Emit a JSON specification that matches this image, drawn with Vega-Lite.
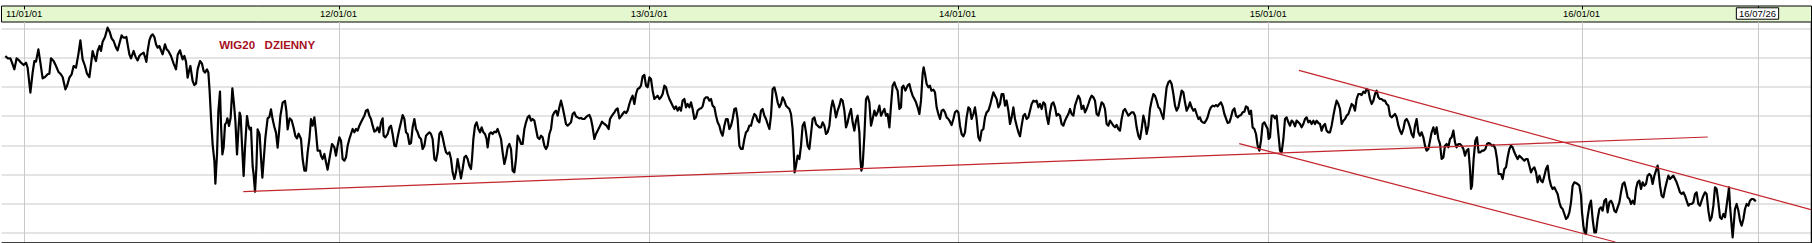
{
"$schema": "https://vega.github.io/schema/vega-lite/v6.json",
"padding": {"top": 4.5, "left": 0, "right": 0, "bottom": 0},
"spacing": 0,
"bounds": "flush",
"config": {"view": {"stroke": null}},
"datasets": {
"hdr": [
{"s":18.6,"t":"11/01/01","box":0},{"s":270,"t":"12/01/01","box":0},{"s":518.6,"t":"13/01/01","box":0},{"s":765.2,"t":"14/01/01","box":0},{"s":1013.8,"t":"15/01/01","box":0},{"s":1264.4,"t":"16/01/01","box":0},{"s":1405.2,"t":"16/07/26","box":1}
],
"note": [{"s":174.6,"v":2816,"t":"WIG20\u00a0\u00a0\u00a0DZIENNY"}],
"trend": [
{"id":"a","s":193.8,"v":1942},{"id":"a","s":1365.4,"v":2270},
{"id":"b","s":1038.4,"v":2670},{"id":"b","s":1448,"v":1834},
{"id":"c","s":990.6,"v":2230},{"id":"c","s":1291.4,"v":1640}
],
"price": [
{"s":3.5,"v":2756},{"s":5.3,"v":2742},{"s":7.5,"v":2742},{"s":8.8,"v":2716},{"s":10.7,"v":2676},{"s":12.5,"v":2742},{"s":14.4,"v":2730},{"s":16,"v":2716},{"s":18.1,"v":2702},{"s":20,"v":2716},{"s":21.3,"v":2686},{"s":23.5,"v":2536},{"s":25.3,"v":2656},{"s":26.7,"v":2726},{"s":28,"v":2722},{"s":29.9,"v":2796},{"s":31.5,"v":2716},{"s":33.3,"v":2622},{"s":35.2,"v":2630},{"s":37.3,"v":2646},{"s":38.7,"v":2650},{"s":40,"v":2742},{"s":42.1,"v":2726},{"s":44,"v":2696},{"s":45.9,"v":2662},{"s":47.5,"v":2650},{"s":49.3,"v":2630},{"s":51.5,"v":2556},{"s":52.8,"v":2576},{"s":54.7,"v":2626},{"s":56.5,"v":2646},{"s":58.1,"v":2696},{"s":60,"v":2686},{"s":61.9,"v":2766},{"s":63.5,"v":2850},{"s":65.3,"v":2736},{"s":67.2,"v":2696},{"s":68.8,"v":2650},{"s":70.7,"v":2630},{"s":72,"v":2706},{"s":73.3,"v":2786},{"s":74.7,"v":2750},{"s":76,"v":2726},{"s":77.3,"v":2786},{"s":78.9,"v":2816},{"s":80,"v":2786},{"s":81.3,"v":2842},{"s":83.2,"v":2870},{"s":85.3,"v":2926},{"s":86.9,"v":2902},{"s":88.5,"v":2862},{"s":90.1,"v":2846},{"s":92,"v":2806},{"s":93.3,"v":2790},{"s":94.9,"v":2836},{"s":96.5,"v":2880},{"s":97.9,"v":2866},{"s":99.2,"v":2866},{"s":100.3,"v":2870},{"s":101.3,"v":2826},{"s":102.7,"v":2766},{"s":104,"v":2742},{"s":106.1,"v":2786},{"s":107.7,"v":2750},{"s":109.3,"v":2730},{"s":110.7,"v":2756},{"s":112,"v":2766},{"s":114.1,"v":2776},{"s":115.2,"v":2750},{"s":116.3,"v":2720},{"s":117.3,"v":2786},{"s":118.7,"v":2850},{"s":120,"v":2876},{"s":121.3,"v":2886},{"s":122.7,"v":2870},{"s":124,"v":2826},{"s":125.3,"v":2806},{"s":126.7,"v":2816},{"s":128,"v":2790},{"s":129.3,"v":2766},{"s":131.2,"v":2826},{"s":132.5,"v":2796},{"s":133.9,"v":2786},{"s":136,"v":2756},{"s":138.1,"v":2710},{"s":140,"v":2676},{"s":141.3,"v":2762},{"s":143.2,"v":2790},{"s":145.3,"v":2736},{"s":146.7,"v":2756},{"s":148,"v":2722},{"s":149.3,"v":2626},{"s":150.7,"v":2676},{"s":151.5,"v":2696},{"s":153.3,"v":2606},{"s":154.7,"v":2582},{"s":156,"v":2590},{"s":157.3,"v":2676},{"s":159.2,"v":2726},{"s":160.8,"v":2710},{"s":162.1,"v":2666},{"s":163.2,"v":2656},{"s":164.8,"v":2676},{"s":165.9,"v":2656},{"s":166.9,"v":2546},{"s":168,"v":2386},{"s":169.3,"v":2226},{"s":170.7,"v":2126},{"s":171.5,"v":1990},{"s":172.8,"v":2166},{"s":173.9,"v":2426},{"s":175.2,"v":2542},{"s":176,"v":2346},{"s":177.1,"v":2166},{"s":178.1,"v":2206},{"s":179.2,"v":2346},{"s":180.3,"v":2356},{"s":181.1,"v":2382},{"s":182.4,"v":2336},{"s":183.7,"v":2386},{"s":185.1,"v":2562},{"s":186.4,"v":2466},{"s":187.5,"v":2366},{"s":188.8,"v":2166},{"s":189.9,"v":2306},{"s":190.9,"v":2416},{"s":191.7,"v":2396},{"s":192.8,"v":2226},{"s":194.1,"v":2036},{"s":195.2,"v":2206},{"s":196.8,"v":2396},{"s":197.9,"v":2342},{"s":198.9,"v":2316},{"s":200,"v":2326},{"s":201.3,"v":2096},{"s":202.1,"v":2046},{"s":203.2,"v":1942},{"s":204.3,"v":2086},{"s":205.3,"v":2316},{"s":206.9,"v":2286},{"s":208,"v":2146},{"s":209.1,"v":2026},{"s":210.1,"v":2126},{"s":211.5,"v":2266},{"s":213.3,"v":2382},{"s":214.7,"v":2390},{"s":216,"v":2436},{"s":217.3,"v":2376},{"s":218.7,"v":2330},{"s":220,"v":2296},{"s":221.3,"v":2206},{"s":222.4,"v":2296},{"s":223.5,"v":2396},{"s":225.3,"v":2476},{"s":227.2,"v":2486},{"s":228.3,"v":2426},{"s":229.3,"v":2316},{"s":230.9,"v":2382},{"s":232.5,"v":2370},{"s":234.1,"v":2326},{"s":235.5,"v":2276},{"s":236.8,"v":2262},{"s":238.1,"v":2290},
{"s":240,"v":2258},{"s":241.3,"v":2138},{"s":242.7,"v":2068},{"s":244,"v":2068},{"s":245.3,"v":2178},{"s":246.7,"v":2258},{"s":248,"v":2378},{"s":249.3,"v":2338},{"s":250.7,"v":2388},{"s":252,"v":2298},{"s":253.3,"v":2188},{"s":255.2,"v":2188},{"s":256,"v":2158},{"s":257.3,"v":2138},{"s":258.7,"v":2168},{"s":260,"v":2118},{"s":261.3,"v":2074},{"s":262.7,"v":2138},{"s":264.8,"v":2228},{"s":266.7,"v":2208},{"s":268,"v":2158},{"s":269.3,"v":2218},{"s":270.7,"v":2268},{"s":272,"v":2248},{"s":273.3,"v":2138},{"s":274.7,"v":2128},{"s":276,"v":2148},{"s":277.3,"v":2218},{"s":278.7,"v":2258},{"s":280,"v":2288},{"s":281.3,"v":2318},{"s":282.7,"v":2298},{"s":284,"v":2318},{"s":285.3,"v":2308},{"s":286.7,"v":2338},{"s":288,"v":2358},{"s":289.3,"v":2378},{"s":290.7,"v":2398},{"s":292,"v":2428},{"s":293.3,"v":2434},{"s":294.7,"v":2398},{"s":296,"v":2378},{"s":297.3,"v":2338},{"s":298.7,"v":2302},{"s":300,"v":2308},{"s":301.3,"v":2328},{"s":302.7,"v":2298},{"s":304,"v":2358},{"s":305.3,"v":2382},{"s":306.1,"v":2278},{"s":307.5,"v":2268},{"s":309.3,"v":2288},{"s":310.7,"v":2328},{"s":312,"v":2338},{"s":313.3,"v":2288},{"s":314.7,"v":2218},{"s":316,"v":2214},{"s":317.3,"v":2268},{"s":318.7,"v":2318},{"s":320,"v":2358},{"s":321.3,"v":2402},{"s":322.7,"v":2378},{"s":324,"v":2298},{"s":325.3,"v":2288},{"s":326.7,"v":2228},{"s":328,"v":2234},{"s":329.3,"v":2328},{"s":330.7,"v":2378},{"s":332,"v":2318},{"s":333.3,"v":2298},{"s":334.7,"v":2268},{"s":336,"v":2258},{"s":337.3,"v":2198},{"s":338.7,"v":2218},{"s":340,"v":2278},{"s":341.3,"v":2288},{"s":342.7,"v":2298},{"s":344,"v":2288},{"s":345.3,"v":2258},{"s":346.7,"v":2138},{"s":348,"v":2128},{"s":349.3,"v":2178},{"s":350.7,"v":2288},{"s":352,"v":2302},{"s":353.3,"v":2268},{"s":354.7,"v":2218},{"s":356,"v":2178},{"s":357.3,"v":2168},{"s":358.7,"v":2178},{"s":360,"v":2138},{"s":361.3,"v":2058},{"s":362.7,"v":2018},{"s":364,"v":2058},{"s":365.3,"v":2138},{"s":366.7,"v":2078},{"s":368,"v":2022},{"s":369.3,"v":2078},{"s":370.7,"v":2148},{"s":372,"v":2158},{"s":373.3,"v":2138},{"s":374.7,"v":2098},{"s":376,"v":2078},{"s":376.8,"v":2138},{"s":377.9,"v":2258},{"s":379.2,"v":2338},{"s":380.5,"v":2358},{"s":381.9,"v":2318},{"s":383.2,"v":2298},{"s":384.5,"v":2328},{"s":385.9,"v":2298},{"s":387.2,"v":2288},{"s":388.5,"v":2258},{"s":389.3,"v":2208},{"s":390.7,"v":2288},{"s":392,"v":2298},{"s":393.3,"v":2288},{"s":394.7,"v":2302},{"s":396,"v":2298},{"s":397.3,"v":2318},{"s":398.7,"v":2288},{"s":400,"v":2258},{"s":401.3,"v":2178},{"s":402.7,"v":2108},{"s":404,"v":2148},{"s":405.3,"v":2208},{"s":406.7,"v":2228},{"s":408,"v":2198},{"s":409.3,"v":2068},{"s":410.7,"v":2058},{"s":412,"v":2138},{"s":413.3,"v":2278},{"s":414.7,"v":2258},{"s":416,"v":2228},{"s":417.3,"v":2228},{"s":418.7,"v":2318},{"s":420,"v":2358},{"s":421.3,"v":2388},{"s":422.7,"v":2398},{"s":424,"v":2368},{"s":425.3,"v":2378},{"s":426.7,"v":2368},{"s":428,"v":2318},{"s":429.3,"v":2268},{"s":430.7,"v":2258},{"s":432,"v":2278},{"s":433.3,"v":2268},{"s":434.7,"v":2218},{"s":436,"v":2198},{"s":437.3,"v":2218},{"s":438.7,"v":2288},{"s":440,"v":2318},{"s":441.3,"v":2398},{"s":442.7,"v":2418},{"s":444,"v":2428},{"s":445.3,"v":2398},{"s":446.7,"v":2448},{"s":448,"v":2488},{"s":449.3,"v":2448},{"s":450.7,"v":2398},{"s":452,"v":2348},{"s":453.3,"v":2338},{"s":454.7,"v":2348},{"s":456,"v":2358},{"s":457.3,"v":2408},{"s":458.7,"v":2418},{"s":460,"v":2394},{"s":461.3,"v":2388},{"s":462.7,"v":2382},{"s":464,"v":2384},{"s":465.3,"v":2378},{"s":466.7,"v":2378},{"s":468,"v":2388},{"s":469.3,"v":2398},{"s":470.7,"v":2402},{"s":472,"v":2378},{"s":473.3,"v":2328},{"s":474.7,"v":2258},{"s":476,"v":2288},{"s":477.3,"v":2308},{"s":478.7,"v":2328},{"s":480,"v":2348},
{"s":480.8,"v":2362},{"s":482.7,"v":2348},{"s":484.5,"v":2338},{"s":486.1,"v":2318},{"s":487.2,"v":2378},{"s":488.8,"v":2398},{"s":490.7,"v":2418},{"s":492,"v":2434},{"s":493.3,"v":2442},{"s":494.7,"v":2382},{"s":496,"v":2394},{"s":497.3,"v":2408},{"s":498.7,"v":2422},{"s":500,"v":2414},{"s":501.3,"v":2428},{"s":502.7,"v":2468},{"s":504,"v":2498},{"s":505.3,"v":2518},{"s":506.7,"v":2468},{"s":508,"v":2528},{"s":509.3,"v":2558},{"s":510.7,"v":2564},{"s":512,"v":2578},{"s":513.3,"v":2634},{"s":514.7,"v":2642},{"s":516,"v":2578},{"s":517.3,"v":2568},{"s":518.7,"v":2628},{"s":520,"v":2618},{"s":521.3,"v":2548},{"s":522.7,"v":2498},{"s":524,"v":2508},{"s":525.3,"v":2518},{"s":526.7,"v":2498},{"s":528,"v":2508},{"s":529.3,"v":2528},{"s":530.7,"v":2578},{"s":532,"v":2568},{"s":533.3,"v":2528},{"s":534.7,"v":2498},{"s":536,"v":2478},{"s":537.3,"v":2458},{"s":538.7,"v":2438},{"s":540,"v":2454},{"s":541.3,"v":2428},{"s":542.7,"v":2448},{"s":544,"v":2428},{"s":545.3,"v":2488},{"s":546.7,"v":2498},{"s":548,"v":2448},{"s":549.3,"v":2468},{"s":550.7,"v":2448},{"s":552,"v":2478},{"s":553.3,"v":2438},{"s":554.7,"v":2378},{"s":556,"v":2388},{"s":557.3,"v":2428},{"s":558.7,"v":2438},{"s":560,"v":2442},{"s":561.3,"v":2454},{"s":562.7,"v":2498},{"s":564,"v":2508},{"s":565.3,"v":2508},{"s":566.7,"v":2488},{"s":568,"v":2498},{"s":569.3,"v":2458},{"s":570.7,"v":2448},{"s":572,"v":2398},{"s":573.3,"v":2358},{"s":574.7,"v":2338},{"s":576,"v":2298},{"s":577.3,"v":2278},{"s":578.7,"v":2338},{"s":580,"v":2378},{"s":581.3,"v":2378},{"s":582.7,"v":2318},{"s":584,"v":2338},{"s":585.3,"v":2378},{"s":586.7,"v":2438},{"s":588,"v":2442},{"s":589.3,"v":2378},{"s":590.7,"v":2218},{"s":592,"v":2198},{"s":593.3,"v":2198},{"s":594.7,"v":2258},{"s":596,"v":2298},{"s":597.3,"v":2308},{"s":598.7,"v":2338},{"s":600,"v":2338},{"s":601.3,"v":2378},{"s":602.7,"v":2408},{"s":604,"v":2398},{"s":605.3,"v":2368},{"s":606.7,"v":2358},{"s":608,"v":2428},{"s":609.3,"v":2438},{"s":610.7,"v":2398},{"s":612,"v":2378},{"s":613.3,"v":2348},{"s":614.7,"v":2318},{"s":616,"v":2398},{"s":617.3,"v":2558},{"s":618.7,"v":2568},{"s":620,"v":2528},{"s":621.3,"v":2478},{"s":622.7,"v":2448},{"s":624,"v":2468},{"s":625.3,"v":2508},{"s":626.7,"v":2488},{"s":628,"v":2458},{"s":629.3,"v":2448},{"s":630.7,"v":2438},{"s":632,"v":2408},{"s":633.3,"v":2318},{"s":634.1,"v":2198},{"s":634.9,"v":2058},{"s":636,"v":2098},{"s":637.3,"v":2158},{"s":638.7,"v":2138},{"s":640,"v":2218},{"s":641.3,"v":2338},{"s":642.7,"v":2358},{"s":644,"v":2298},{"s":645.3,"v":2218},{"s":646.7,"v":2198},{"s":648,"v":2288},{"s":649.3,"v":2378},{"s":650.7,"v":2388},{"s":652,"v":2348},{"s":653.3,"v":2338},{"s":654.7,"v":2328},{"s":656,"v":2328},{"s":657.3,"v":2358},{"s":658.7,"v":2338},{"s":660,"v":2288},{"s":661.3,"v":2298},{"s":662.7,"v":2338},{"s":664,"v":2438},{"s":665.3,"v":2488},{"s":666.7,"v":2448},{"s":668,"v":2388},{"s":669.3,"v":2428},{"s":670.7,"v":2458},{"s":672,"v":2498},{"s":673.3,"v":2488},{"s":674.7,"v":2428},{"s":676,"v":2328},{"s":677.3,"v":2358},{"s":678.7,"v":2408},{"s":680,"v":2438},{"s":681.3,"v":2358},{"s":682.7,"v":2308},{"s":684,"v":2368},{"s":685.3,"v":2398},{"s":686.7,"v":2298},{"s":687.5,"v":2138},{"s":688.3,"v":2068},{"s":689.3,"v":2098},{"s":690.7,"v":2278},{"s":692,"v":2498},{"s":693.3,"v":2514},{"s":694.7,"v":2478},{"s":696,"v":2338},{"s":697.3,"v":2378},{"s":698.7,"v":2428},{"s":700,"v":2398},{"s":701.3,"v":2418},{"s":702.7,"v":2458},{"s":704,"v":2398},{"s":705.3,"v":2418},{"s":706.7,"v":2438},{"s":708,"v":2398},{"s":709.3,"v":2408},{"s":710.7,"v":2328},{"s":712,"v":2458},{"s":713.3,"v":2578},{"s":714.7,"v":2598},{"s":716,"v":2568},{"s":717.3,"v":2548},{"s":718.7,"v":2438},{"s":720,"v":2448},
{"s":720.8,"v":2568},{"s":721.9,"v":2578},{"s":723.5,"v":2548},{"s":725.3,"v":2578},{"s":726.7,"v":2588},{"s":728,"v":2548},{"s":729.3,"v":2518},{"s":730.7,"v":2498},{"s":732,"v":2478},{"s":733.3,"v":2448},{"s":734.7,"v":2408},{"s":736,"v":2488},{"s":737.3,"v":2648},{"s":738.1,"v":2688},{"s":739.2,"v":2648},{"s":740.5,"v":2588},{"s":741.9,"v":2568},{"s":743.2,"v":2578},{"s":744.3,"v":2548},{"s":745.9,"v":2554},{"s":747.2,"v":2538},{"s":748.5,"v":2448},{"s":749.9,"v":2408},{"s":751.2,"v":2378},{"s":752.5,"v":2428},{"s":753.9,"v":2434},{"s":755.2,"v":2418},{"s":756.5,"v":2388},{"s":757.9,"v":2378},{"s":759.2,"v":2362},{"s":760.5,"v":2342},{"s":761.9,"v":2378},{"s":763.2,"v":2418},{"s":764.5,"v":2428},{"s":765.9,"v":2418},{"s":767.2,"v":2338},{"s":768.5,"v":2288},{"s":769.9,"v":2274},{"s":771.2,"v":2298},{"s":772.5,"v":2388},{"s":773.9,"v":2448},{"s":775.2,"v":2438},{"s":776.5,"v":2378},{"s":777.9,"v":2408},{"s":779.2,"v":2448},{"s":780.5,"v":2378},{"s":781.9,"v":2268},{"s":783.2,"v":2248},{"s":784.5,"v":2308},{"s":785.9,"v":2318},{"s":787.2,"v":2388},{"s":788.5,"v":2418},{"s":789.9,"v":2428},{"s":791.2,"v":2458},{"s":792.5,"v":2498},{"s":793.9,"v":2538},{"s":795.2,"v":2518},{"s":796.5,"v":2498},{"s":797.9,"v":2448},{"s":799.2,"v":2468},{"s":800.5,"v":2528},{"s":801.9,"v":2528},{"s":803.2,"v":2458},{"s":804.5,"v":2488},{"s":805.9,"v":2428},{"s":807.2,"v":2348},{"s":808.5,"v":2388},{"s":809.9,"v":2448},{"s":811.2,"v":2378},{"s":812.5,"v":2338},{"s":813.9,"v":2298},{"s":815.2,"v":2274},{"s":816.5,"v":2338},{"s":817.9,"v":2398},{"s":819.2,"v":2408},{"s":820.5,"v":2378},{"s":821.9,"v":2388},{"s":823.2,"v":2428},{"s":824.5,"v":2468},{"s":825.9,"v":2488},{"s":827.2,"v":2482},{"s":828.5,"v":2488},{"s":829.9,"v":2448},{"s":831.2,"v":2468},{"s":832.5,"v":2438},{"s":833.9,"v":2478},{"s":835.2,"v":2468},{"s":836.5,"v":2398},{"s":837.9,"v":2348},{"s":839.2,"v":2418},{"s":840.5,"v":2468},{"s":841.9,"v":2478},{"s":843.2,"v":2448},{"s":844.5,"v":2398},{"s":845.9,"v":2408},{"s":847.2,"v":2398},{"s":848.5,"v":2348},{"s":849.9,"v":2338},{"s":851.2,"v":2368},{"s":852.5,"v":2388},{"s":853.9,"v":2408},{"s":855.2,"v":2438},{"s":856.5,"v":2408},{"s":857.9,"v":2398},{"s":859.2,"v":2458},{"s":860.5,"v":2488},{"s":861.9,"v":2518},{"s":863.2,"v":2498},{"s":864.5,"v":2438},{"s":865.9,"v":2458},{"s":867.2,"v":2418},{"s":868.5,"v":2438},{"s":869.9,"v":2468},{"s":871.2,"v":2498},{"s":872.5,"v":2518},{"s":873.9,"v":2508},{"s":875.2,"v":2488},{"s":876.5,"v":2408},{"s":877.9,"v":2398},{"s":879.2,"v":2438},{"s":880.5,"v":2478},{"s":881.9,"v":2468},{"s":883.2,"v":2438},{"s":884.5,"v":2348},{"s":885.9,"v":2338},{"s":887.2,"v":2368},{"s":888.5,"v":2354},{"s":889.9,"v":2338},{"s":891.2,"v":2328},{"s":892.5,"v":2342},{"s":893.9,"v":2318},{"s":895.2,"v":2308},{"s":896.5,"v":2378},{"s":897.9,"v":2428},{"s":899.2,"v":2438},{"s":900.5,"v":2418},{"s":901.9,"v":2398},{"s":903.2,"v":2408},{"s":904.5,"v":2418},{"s":905.9,"v":2418},{"s":907.2,"v":2398},{"s":908.5,"v":2328},{"s":909.9,"v":2278},{"s":911.2,"v":2258},{"s":912.5,"v":2318},{"s":913.9,"v":2398},{"s":915.2,"v":2358},{"s":916.5,"v":2288},{"s":917.9,"v":2338},{"s":919.2,"v":2438},{"s":920.5,"v":2488},{"s":921.9,"v":2528},{"s":923.2,"v":2518},{"s":924.5,"v":2488},{"s":925.9,"v":2448},{"s":927.2,"v":2438},{"s":928.5,"v":2408},{"s":929.9,"v":2378},{"s":931.2,"v":2478},{"s":932.5,"v":2568},{"s":933.9,"v":2598},{"s":935.2,"v":2608},{"s":936.5,"v":2588},{"s":937.9,"v":2528},{"s":939.2,"v":2458},{"s":940.5,"v":2428},{"s":941.9,"v":2448},{"s":943.2,"v":2498},{"s":944.5,"v":2548},{"s":945.9,"v":2538},{"s":947.2,"v":2478},{"s":948.5,"v":2428},{"s":949.9,"v":2448},{"s":951.2,"v":2478},{"s":952.5,"v":2448},{"s":953.9,"v":2428},{"s":955.2,"v":2438},{"s":956.5,"v":2408},{"s":957.9,"v":2378},{"s":959.2,"v":2388},{"s":960,"v":2368},
{"s":961.3,"v":2358},{"s":962.7,"v":2354},{"s":964,"v":2368},{"s":965.3,"v":2388},{"s":966.7,"v":2428},{"s":968,"v":2448},{"s":969.3,"v":2458},{"s":970.7,"v":2454},{"s":972,"v":2462},{"s":973.3,"v":2454},{"s":974.7,"v":2468},{"s":976,"v":2478},{"s":977.3,"v":2454},{"s":978.7,"v":2408},{"s":980,"v":2382},{"s":981.3,"v":2354},{"s":982.7,"v":2358},{"s":984,"v":2388},{"s":985.3,"v":2428},{"s":986.7,"v":2442},{"s":988,"v":2398},{"s":989.3,"v":2388},{"s":990.7,"v":2398},{"s":992,"v":2402},{"s":993.3,"v":2418},{"s":994.7,"v":2422},{"s":996,"v":2454},{"s":997.3,"v":2448},{"s":998.7,"v":2408},{"s":1000,"v":2428},{"s":1001.3,"v":2328},{"s":1002.7,"v":2318},{"s":1004,"v":2288},{"s":1005.3,"v":2218},{"s":1006.7,"v":2188},{"s":1008,"v":2248},{"s":1009.3,"v":2348},{"s":1010.7,"v":2358},{"s":1012,"v":2338},{"s":1013.3,"v":2318},{"s":1014.1,"v":2258},{"s":1015.2,"v":2268},{"s":1016.5,"v":2398},{"s":1017.9,"v":2398},{"s":1019.2,"v":2382},{"s":1020.5,"v":2398},{"s":1021.9,"v":2288},{"s":1023.2,"v":2188},{"s":1024.5,"v":2178},{"s":1025.9,"v":2258},{"s":1027.2,"v":2378},{"s":1028.5,"v":2388},{"s":1029.9,"v":2358},{"s":1031.2,"v":2338},{"s":1032.5,"v":2368},{"s":1033.9,"v":2358},{"s":1035.2,"v":2334},{"s":1036.5,"v":2368},{"s":1037.9,"v":2358},{"s":1039.2,"v":2348},{"s":1040.5,"v":2328},{"s":1041.9,"v":2348},{"s":1043.2,"v":2378},{"s":1044.5,"v":2388},{"s":1045.9,"v":2358},{"s":1047.2,"v":2368},{"s":1048.5,"v":2348},{"s":1049.9,"v":2368},{"s":1051.2,"v":2348},{"s":1052.5,"v":2368},{"s":1053.9,"v":2354},{"s":1055.2,"v":2348},{"s":1056.5,"v":2308},{"s":1057.9,"v":2338},{"s":1059.2,"v":2348},{"s":1060.5,"v":2308},{"s":1061.9,"v":2298},{"s":1063.2,"v":2298},{"s":1064.5,"v":2338},{"s":1065.9,"v":2398},{"s":1067.2,"v":2448},{"s":1068.5,"v":2488},{"s":1069.9,"v":2468},{"s":1071.2,"v":2438},{"s":1072.5,"v":2348},{"s":1073.9,"v":2368},{"s":1075.2,"v":2378},{"s":1076.5,"v":2398},{"s":1077.9,"v":2408},{"s":1079.2,"v":2438},{"s":1080.5,"v":2468},{"s":1081.9,"v":2458},{"s":1083.2,"v":2428},{"s":1084.5,"v":2498},{"s":1085.9,"v":2528},{"s":1087.2,"v":2528},{"s":1088.5,"v":2522},{"s":1089.9,"v":2542},{"s":1091.2,"v":2534},{"s":1092.5,"v":2558},{"s":1093.9,"v":2548},{"s":1095.2,"v":2498},{"s":1096.5,"v":2468},{"s":1097.9,"v":2488},{"s":1099.2,"v":2528},{"s":1100.5,"v":2548},{"s":1101.9,"v":2508},{"s":1103.2,"v":2498},{"s":1104.5,"v":2498},{"s":1105.9,"v":2488},{"s":1107.2,"v":2488},{"s":1108.5,"v":2468},{"s":1109.9,"v":2458},{"s":1111.2,"v":2398},{"s":1112.5,"v":2388},{"s":1113.9,"v":2398},{"s":1115.2,"v":2408},{"s":1116.5,"v":2388},{"s":1117.9,"v":2338},{"s":1119.2,"v":2308},{"s":1120.5,"v":2288},{"s":1121.9,"v":2318},{"s":1123.2,"v":2368},{"s":1124.5,"v":2378},{"s":1125.9,"v":2358},{"s":1127.2,"v":2328},{"s":1128.5,"v":2288},{"s":1129.9,"v":2268},{"s":1131.2,"v":2338},{"s":1132.5,"v":2378},{"s":1133.9,"v":2298},{"s":1135.2,"v":2278},{"s":1136.5,"v":2298},{"s":1137.9,"v":2268},{"s":1139.2,"v":2218},{"s":1140.5,"v":2188},{"s":1141.9,"v":2198},{"s":1143.2,"v":2248},{"s":1144.5,"v":2298},{"s":1145.9,"v":2328},{"s":1147.2,"v":2288},{"s":1148.5,"v":2328},{"s":1149.9,"v":2258},{"s":1151.2,"v":2228},{"s":1152.5,"v":2138},{"s":1153.9,"v":2148},{"s":1155.2,"v":2218},{"s":1156.5,"v":2228},{"s":1157.9,"v":2208},{"s":1159.2,"v":2258},{"s":1160.5,"v":2268},{"s":1161.9,"v":2308},{"s":1163.2,"v":2238},{"s":1164.5,"v":2208},{"s":1165.9,"v":2228},{"s":1167.2,"v":2228},{"s":1168.5,"v":2218},{"s":1169.9,"v":2198},{"s":1171.2,"v":2158},{"s":1172.5,"v":2188},{"s":1173.9,"v":2198},{"s":1175.2,"v":2078},{"s":1176,"v":1958},{"s":1176.8,"v":1978},{"s":1178.1,"v":2138},{"s":1179.5,"v":2248},{"s":1180.8,"v":2268},{"s":1182.1,"v":2178},{"s":1183.5,"v":2178},{"s":1184.8,"v":2188},{"s":1186.1,"v":2188},{"s":1187.5,"v":2198},{"s":1188.8,"v":2228},{"s":1190.1,"v":2234},{"s":1191.5,"v":2228},{"s":1192.8,"v":2218},{"s":1194.1,"v":2222},{"s":1195.5,"v":2198},{"s":1196.8,"v":2138},{"s":1198.1,"v":2048},{"s":1200,"v":2048},
{"s":1201.3,"v":2018},{"s":1202.7,"v":2078},{"s":1204,"v":2088},{"s":1205.3,"v":2148},{"s":1206.7,"v":2198},{"s":1208,"v":2218},{"s":1209.3,"v":2208},{"s":1210.7,"v":2178},{"s":1212,"v":2158},{"s":1213.3,"v":2138},{"s":1214.7,"v":2158},{"s":1216,"v":2148},{"s":1217.3,"v":2138},{"s":1218.7,"v":2128},{"s":1220,"v":2138},{"s":1221.3,"v":2138},{"s":1222.7,"v":2098},{"s":1224,"v":2058},{"s":1225.3,"v":2078},{"s":1226.7,"v":2088},{"s":1228,"v":2058},{"s":1229.3,"v":1998},{"s":1230.7,"v":2038},{"s":1232,"v":2008},{"s":1233.3,"v":1998},{"s":1234.7,"v":2038},{"s":1236,"v":2078},{"s":1237.3,"v":2098},{"s":1238.7,"v":2018},{"s":1240,"v":1978},{"s":1241.3,"v":1958},{"s":1242.7,"v":1968},{"s":1244,"v":1948},{"s":1245.3,"v":1928},{"s":1246.7,"v":1878},{"s":1248,"v":1848},{"s":1249.3,"v":1838},{"s":1250.7,"v":1808},{"s":1252,"v":1778},{"s":1253.3,"v":1788},{"s":1254.7,"v":1818},{"s":1256,"v":1878},{"s":1257.3,"v":1978},{"s":1258.7,"v":1998},{"s":1260,"v":1994},{"s":1261.3,"v":1988},{"s":1262.7,"v":1978},{"s":1264,"v":1918},{"s":1264.8,"v":1818},{"s":1265.9,"v":1738},{"s":1266.9,"v":1698},{"s":1268,"v":1688},{"s":1269.1,"v":1778},{"s":1270.7,"v":1858},{"s":1272,"v":1888},{"s":1273.3,"v":1778},{"s":1274.7,"v":1698},{"s":1276,"v":1698},{"s":1277.3,"v":1778},{"s":1278.7,"v":1838},{"s":1280,"v":1848},{"s":1281.3,"v":1828},{"s":1282.7,"v":1888},{"s":1284,"v":1898},{"s":1285.3,"v":1818},{"s":1286.7,"v":1878},{"s":1288,"v":1888},{"s":1289.3,"v":1868},{"s":1290.7,"v":1828},{"s":1292,"v":1818},{"s":1293.3,"v":1848},{"s":1294.7,"v":1878},{"s":1296,"v":1938},{"s":1297.3,"v":1988},{"s":1298.7,"v":1998},{"s":1300,"v":1958},{"s":1301.3,"v":1908},{"s":1302.7,"v":1898},{"s":1304,"v":1868},{"s":1305.3,"v":1888},{"s":1306.7,"v":1868},{"s":1308,"v":1958},{"s":1309.3,"v":1998},{"s":1310.7,"v":2008},{"s":1312,"v":1958},{"s":1313.3,"v":1998},{"s":1314.7,"v":1978},{"s":1316,"v":1988},{"s":1317.3,"v":2038},{"s":1318.7,"v":2048},{"s":1320,"v":2038},{"s":1321.3,"v":1988},{"s":1322.7,"v":2038},{"s":1324,"v":2068},{"s":1325.3,"v":2098},{"s":1326.1,"v":2058},{"s":1327.2,"v":1978},{"s":1328.5,"v":1918},{"s":1329.9,"v":1908},{"s":1331.2,"v":1958},{"s":1332.5,"v":1998},{"s":1333.9,"v":2038},{"s":1335.2,"v":2018},{"s":1336.5,"v":2028},{"s":1337.9,"v":2038},{"s":1339.2,"v":2018},{"s":1340.5,"v":1998},{"s":1341.9,"v":1968},{"s":1343.2,"v":1938},{"s":1344.5,"v":1928},{"s":1345.9,"v":1938},{"s":1347.2,"v":1918},{"s":1348.5,"v":1888},{"s":1349.9,"v":1858},{"s":1351.2,"v":1868},{"s":1352.5,"v":1868},{"s":1353.9,"v":1878},{"s":1355.2,"v":1928},{"s":1356.5,"v":1938},{"s":1357.9,"v":1868},{"s":1359.2,"v":1858},{"s":1360.5,"v":1888},{"s":1361.9,"v":1918},{"s":1363.2,"v":1938},{"s":1364.5,"v":1928},{"s":1365.9,"v":1828},{"s":1367.2,"v":1768},{"s":1368.5,"v":1788},{"s":1369.9,"v":1858},{"s":1371.2,"v":1968},{"s":1372.5,"v":1958},{"s":1373.9,"v":1878},{"s":1375.2,"v":1788},{"s":1376.5,"v":1778},{"s":1377.9,"v":1808},{"s":1379.2,"v":1788},{"s":1380.5,"v":1858},{"s":1381.9,"v":1938},{"s":1382.4,"v":1968},{"s":1383.2,"v":1858},{"s":1384.3,"v":1758},{"s":1385.3,"v":1668},{"s":1386.1,"v":1738},{"s":1387.2,"v":1838},{"s":1388.5,"v":1868},{"s":1389.9,"v":1828},{"s":1391.2,"v":1768},{"s":1392.5,"v":1738},{"s":1393.9,"v":1778},{"s":1395.2,"v":1838},{"s":1396.5,"v":1868},{"s":1397.9,"v":1858},{"s":1399.2,"v":1888},{"s":1400.5,"v":1898},{"s":1401.9,"v":1898},{"s":1403.2,"v":1888},{"s":1404,"v":1892}
]
},
"vconcat": [
{
"width": 1810,
"height": 16,
"view": {"fill": "#e4f7ce", "stroke": "black", "strokeWidth": 1},
"data": {"name": "hdr"},
"encoding": {
"x": {"field": "s", "type": "quantitative", "scale": {"domain": [0, 1448], "nice": false, "zero": false},
"axis": {"orient": "top", "values": [18.6, 270, 518.6, 765.2, 1013.8, 1264.4, 1405.2], "labels": false, "domain": false, "ticks": true, "tickSize": -3.5, "tickColor": "black", "tickWidth": 1, "grid": false, "title": null}}
},
"layer": [
{"transform": [{"filter": "datum.box == 1"}],
"mark": {"type": "point", "shape": "M-1,-0.27H1V0.27H-1Z", "size": 1789, "filled": true, "fill": "white", "stroke": "black", "strokeWidth": 1, "opacity": 1}},
{"mark": {"type": "text", "font": "Liberation Sans", "fontSize": 9.5, "color": "black", "align": "center", "baseline": "middle", "dy": 0.8},
"encoding": {"text": {"field": "t"}}}
]
},
{
"width": 1810,
"height": 221,
"encoding": {
"x": {"field": "s", "type": "quantitative", "scale": {"domain": [0, 1448], "nice": false, "zero": false},
"axis": {"orient": "bottom", "values": [18.6, 270, 518.6, 765.2, 1013.8, 1264.4, 1405.2], "labels": false, "ticks": false, "domain": true, "domainColor": "black", "domainWidth": 1.5, "grid": true, "gridColor": "#c9c9c9", "gridWidth": 1, "title": null}},
"y": {"field": "v", "type": "quantitative", "scale": {"domain": [1637, 2963], "nice": false, "zero": false},
"axis": {"orient": "right", "values": [2922, 2748, 2574, 2398, 2222, 2048, 1874, 1698], "labels": false, "ticks": false, "domain": true, "domainColor": "black", "domainWidth": 1.5, "grid": true, "gridColor": "#c9c9c9", "gridWidth": 1, "title": null}}
},
"layer": [
{"data": {"name": "price"},
"mark": {"type": "line", "color": "black", "strokeWidth": 2.2, "strokeJoin": "round"}},
{"data": {"name": "trend"},
"mark": {"type": "line", "color": "#c4262e", "strokeWidth": 1.2, "clip": true},
"encoding": {"detail": {"field": "id"}}},
{"data": {"name": "note"},
"mark": {"type": "text", "font": "Liberation Sans", "fontWeight": "bold", "fontSize": 11.5, "color": "#a80f1e", "align": "left", "baseline": "middle"},
"encoding": {"text": {"field": "t"}}}
]
}
]
}
